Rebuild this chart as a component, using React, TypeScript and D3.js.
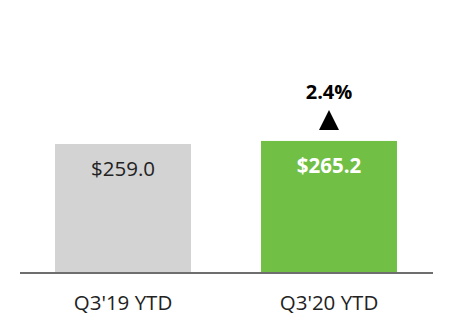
import React from "react";
import * as d3 from "d3";

const categories = ["Q3'19 YTD", "Q3'20 YTD"];
const values = [259.0, 265.2];
const valueLabels = ["$259.0", "$265.2"];
const changeLabel = "2.4%";

const W = 452;
const H = 332;
const FONT = "'Open Sans', sans-serif";

export default function App() {
  const x = d3.scaleBand<string>().domain(categories).range([20, 432]).paddingInner(0.34).paddingOuter(0.17);
  const y = d3.scaleLinear().domain([0, 259]).range([272, 144]);
  const colors = ["#d3d3d3", "#71bf44"];
  const textColors = ["#222222", "#ffffff"];
  const weights = [400, 700];
  const last = categories[1];
  const cx = (x(last) as number) + x.bandwidth() / 2;
  const topY = y(values[1]);
  return (
    <svg width={W} height={H} style={{ position: "absolute", left: 0, top: 0, background: "#fff" }}>
      {categories.map((c, i) => (
        <g key={c}>
          <rect x={x(c)} y={y(values[i])} width={x.bandwidth()} height={y(0) - y(values[i])} fill={colors[i]} />
          <text x={(x(c) as number) + x.bandwidth() / 2} y={y(values[i]) + 32} textAnchor="middle" fontFamily={FONT} fontSize={20.5} fontWeight={weights[i]} fill={textColors[i]}>{valueLabels[i]}</text>
          <text x={(x(c) as number) + x.bandwidth() / 2} y={310} textAnchor="middle" fontFamily={FONT} fontSize={20.5} fill="#222">{c}</text>
        </g>
      ))}
      <line x1={20} x2={433} y1={273} y2={273} stroke="#6e6e6e" strokeWidth={2} />
      <path d={`M${cx - 10},${topY - 11} L${cx + 10},${topY - 11} L${cx},${topY - 31} Z`} fill="#000" />
      <text x={cx} y={99} textAnchor="middle" fontFamily={FONT} fontSize={20} fontWeight={700} fill="#000">{changeLabel}</text>
    </svg>
  );
}
